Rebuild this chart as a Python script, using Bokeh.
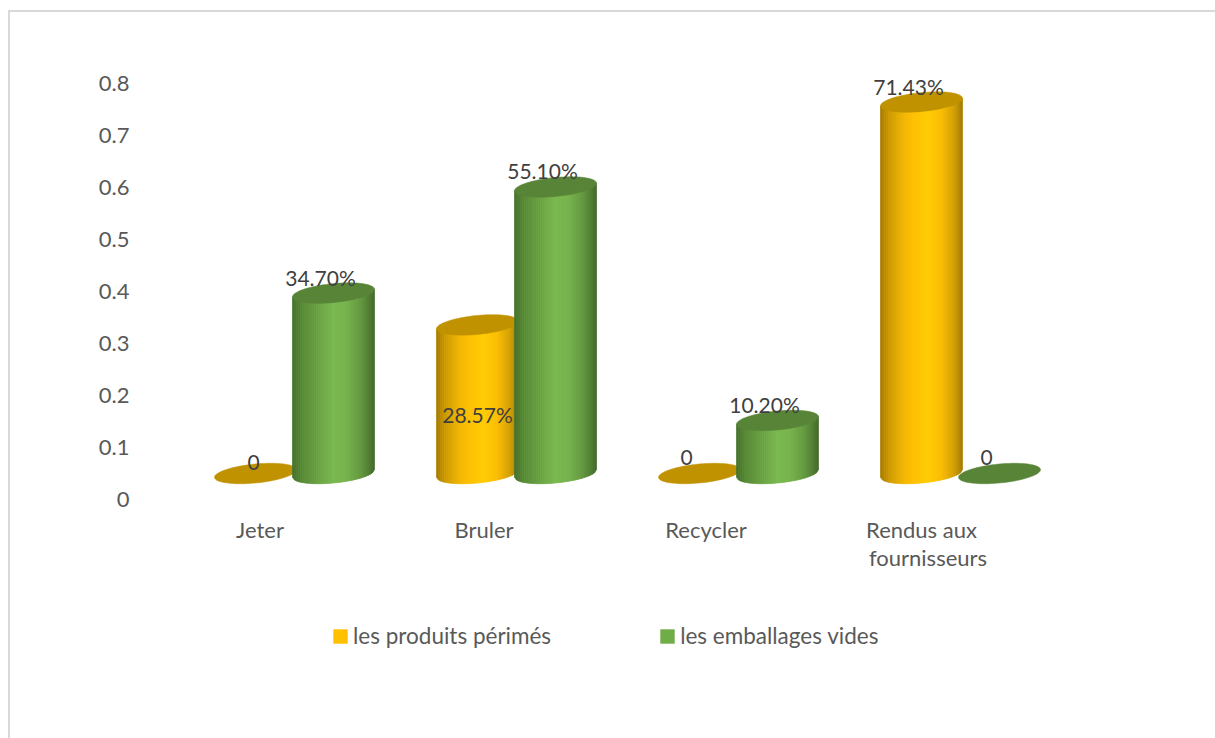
from bokeh.core.properties import value
from bokeh.embed import file_html
from bokeh.models import (ColumnDataSource, FixedTicker, Legend, LegendItem,
                          LinearAxis, Range1d)
from bokeh.plotting import figure
from bokeh.resources import INLINE
import numpy as np

categories = ["Jeter", "Bruler", "Recycler", "Rendus aux\nfournisseurs"]
produits = [0, 0.2857, 0, 0.7143]
emballages = [0.347, 0.551, 0.102, 0]
produits_labels = ["0", "28.57%", "0", "71.43%"]
emballages_labels = ["34.70%", "55.10%", "10.20%", "0"]
y_ticks = [0, 0.1, 0.2, 0.3, 0.4, 0.5, 0.6, 0.7, 0.8]

FONT = "Lato"
W, H = 1215, 738
EDGE_X, EDGE_Y = 10, 12      # page offset of the figure inside its thin border
LEFT = 135                   # frame's left edge in page pixels
X0, DX = 294, 222            # first group centre, group spacing
Y0, DY = 473, 520            # baseline of the cylinders, pixels per unit
AXIS_Y0 = 499                # value axis sits lower than the 3D floor
CAT_SHIFT = -33.5            # category names sit left of the 3D floor

p = figure(frame_width=W - LEFT, frame_height=H - EDGE_Y,
           output_backend="svg", toolbar_location=None,
           x_axis_location=None, y_axis_location=None,
           min_border_left=LEFT - EDGE_X, min_border_right=0, min_border_top=0,
           min_border_bottom=0, outline_line_color=None,
           x_range=Range1d((LEFT - X0) / DX, (W - X0) / DX),
           y_range=Range1d((Y0 - H) / DY, (Y0 - EDGE_Y) / DY))
p.grid.visible = False
p.margin = (EDGE_Y - 2, 0, 0, EDGE_X - 2)
p.styles = {"border-top": "2px solid #d9d9d9", "border-left": "2px solid #d9d9d9"}

p.extra_y_ranges["val"] = Range1d((AXIS_Y0 - H) / DY, (AXIS_Y0 - EDGE_Y) / DY)

GREY = "#595959"
yaxis = LinearAxis(y_range_name="val", ticker=FixedTicker(ticks=y_ticks))
yaxis.axis_line_color = None
yaxis.major_tick_line_color = None
yaxis.minor_tick_line_color = None
yaxis.major_label_text_font = FONT
yaxis.major_label_text_font_size = "22px"
yaxis.major_label_text_color = GREY
yaxis.major_tick_in = 0
yaxis.major_tick_out = 0
yaxis.major_label_standoff = 6
p.add_layout(yaxis, "left")

# Category names below the floor, one entry per printed line
cat_x, cat_line, cat_dx, cat_dy = [], [], [], []
line_nudges = {0: [-1], 1: [1], 2: [1], 3: [-5.5, 1]}
for i, name in enumerate(categories):
    for row, line in enumerate(name.split("\n")):
        cat_x.append(i)
        cat_line.append(line)
        cat_dx.append(CAT_SHIFT + line_nudges[i][row])
        cat_dy.append(56 + 28 * row)
p.text(cat_x, [0] * len(cat_x), text=cat_line, x_offset=cat_dx, y_offset=cat_dy,
       text_font=value(FONT), text_font_size="22px", text_color=GREY,
       text_align="center", text_baseline="middle")

# Cylinder geometry: half-width, tilt and half-depth of the elliptical caps
HALF = 41 / DX
OFFSET = 39 / DX
TILT = 3.8 / DY
DEPTH = 9.5 / DY
STRIPS = 41


def lerp_colors(stops, t):
    pos = [s[0] for s in stops]
    rgb = np.array([[int(s[1][i:i + 2], 16) for i in (1, 3, 5)] for s in stops])
    c = [np.interp(t, pos, rgb[:, k]) for k in range(3)]
    return "#%02x%02x%02x" % tuple(int(round(v)) for v in c)


ORANGE = [(0, "#a67a00"), (0.12, "#cf9c00"), (0.3, "#f5b800"), (0.42, "#ffc000"),
          (0.58, "#ffcc00"), (0.75, "#fabc00"), (0.9, "#d29f00"), (1, "#a47a00")]
GREEN = [(0, "#46702c"), (0.12, "#578a34"), (0.3, "#689f41"), (0.5, "#79b84e"),
         (0.65, "#76b34b"), (0.82, "#649b3f"), (0.93, "#517f32"), (1, "#43692a")]


def cylinders(values, shift, stops, cap_color):
    xs, ys, colors = [], [], []
    edges = np.linspace(-1, 1, STRIPS + 1)
    for i, v in enumerate(values):
        cx = i + shift
        if v > 0:
            for s in range(STRIPS):
                t0, t1 = edges[s], edges[s + 1]
                base0 = TILT * t0 - DEPTH * np.sqrt(1 - t0 * t0)
                base1 = TILT * t1 - DEPTH * np.sqrt(1 - t1 * t1)
                xs.append([cx + HALF * t0, cx + HALF * t1, cx + HALF * t1, cx + HALF * t0])
                ys.append([base0, base1, v + TILT * t1, v + TILT * t0])
                colors.append(lerp_colors(stops, (s + 0.5) / STRIPS))
    p.patches(xs, ys, fill_color=colors, line_color=colors, line_width=0.7)

    # Tilted cap: the right end rides higher than the left
    theta = np.linspace(0, 2 * np.pi, 80)
    cap_x = [list(i + shift + HALF * np.cos(theta)) for i in range(len(values))]
    cap_y = [list(v + TILT * np.cos(theta) + DEPTH * np.sin(theta)) for v in values]
    p.patches(cap_x, cap_y, fill_color=cap_color, line_color=cap_color, line_width=0.5)


cylinders(produits, -OFFSET, ORANGE, "#c09200")
cylinders(emballages, OFFSET, GREEN, "#588438")

# Data labels, nudged in pixels from the top of each cylinder
labels = ColumnDataSource(dict(
    x=[i - OFFSET for i in range(4)] + [i + OFFSET for i in range(4)],
    y=produits + emballages,
    text=produits_labels + emballages_labels,
    dx=[-2, 0, -13, -13, -13, -13, -13, -13],
    dy=[-11, 90, -16, -16, -16, -16, -16, -16],
))
p.text("x", "y", text="text", source=labels, x_offset="dx", y_offset="dy",
       text_font=value(FONT), text_font_size="21px", text_color="#404040",
       text_align="center", text_baseline="middle")

# Legend entries use off-canvas quads so only the square swatches show
nan = float("nan")
sw1 = p.quad(left=[nan], right=[nan], top=[nan], bottom=[nan], fill_color="#ffc000", line_color=None)
sw2 = p.quad(left=[nan], right=[nan], top=[nan], bottom=[nan], fill_color="#70ad47", line_color=None)
legend = Legend(items=[LegendItem(label="les produits périmés", renderers=[sw1]),
                       LegendItem(label="les emballages vides", renderers=[sw2])],
                orientation="horizontal", location=(196, 89), border_line_color=None,
                background_fill_alpha=0, margin=0, padding=0, spacing=107,
                glyph_width=18, glyph_height=18, label_standoff=4,
                label_text_font=FONT, label_text_font_size="22.5px",
                label_text_color=GREY, label_height=14)
p.add_layout(legend)

open("out.html", "w").write(file_html(p, INLINE))
